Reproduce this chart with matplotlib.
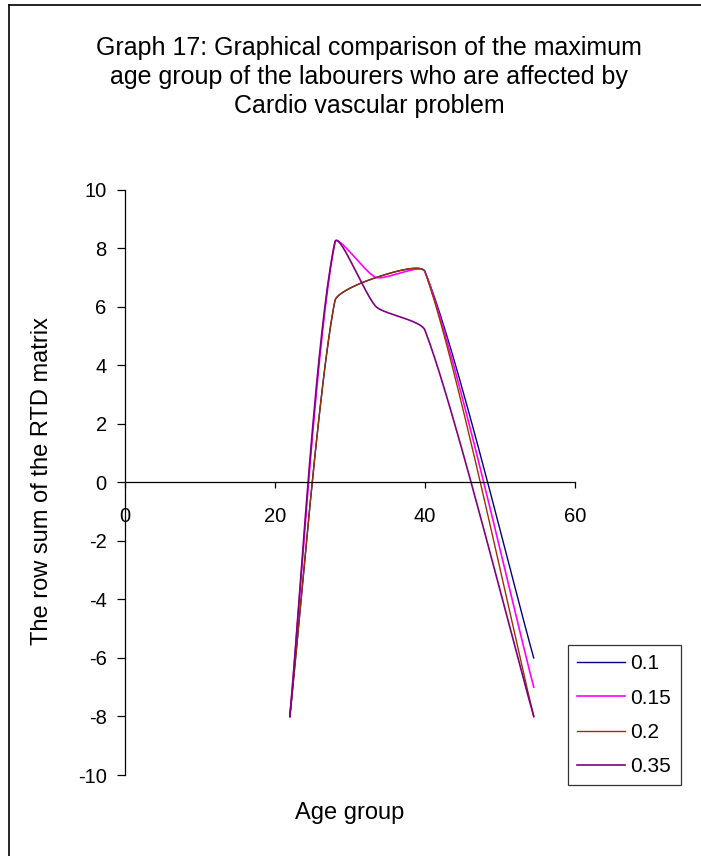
import numpy as np
import matplotlib
matplotlib.use("Agg")
import matplotlib.pyplot as plt
from matplotlib.lines import Line2D

plt.rcParams['font.family'] = ['Liberation Sans', 'DejaVu Sans']
plt.rcParams['axes.unicode_minus'] = False

# data
age = [22, 28, 33.5, 40, 54.5]
labels = ['0.1', '0.15', '0.2', '0.35']
s_01 = [-8, 6.2, 7.0, 7.2, -6]
s_015 = [-8, 8.2, 7.0, 7.2, -7]
s_02 = [-8, 6.2, 7.0, 7.2, -8]
s_035 = [-8, 8.2, 6.0, 5.2, -8]
series = [s_01, s_015, s_02, s_035]
colors = ['#000080', '#FF00FF', '#993300', '#800080']
widths = [1.0, 1.2, 1.0, 1.2]


def smooth(ax, xs, ys, k=0.2, n=40):
    # excel-like smoothed line, built in screen space
    P = ax.transData.transform(np.column_stack([xs, ys]))
    m = len(P)
    D = np.zeros_like(P)
    for i in range(m):
        if i == 0:
            d = P[1] - P[0]
        elif i == m - 1:
            d = P[-1] - P[-2]
        else:
            d = P[i + 1] - P[i - 1]
        D[i] = d / np.hypot(*d)
    t = np.linspace(0, 1, n)[:, None]
    out = []
    for i in range(m - 1):
        L = np.hypot(*(P[i + 1] - P[i]))
        c1 = P[i] + D[i] * L * k
        c2 = P[i + 1] - D[i + 1] * L * k
        seg = ((1 - t) ** 3) * P[i] + 3 * ((1 - t) ** 2) * t * c1 \
            + 3 * (1 - t) * t ** 2 * c2 + t ** 3 * P[i + 1]
        out.append(seg if i == 0 else seg[1:])
    out = np.vstack(out)
    return ax.transData.inverted().transform(out)


fig = plt.figure(figsize=(7.01, 8.56), dpi=100)
ax = fig.add_axes([0.1779, 0.0946, 0.6424, 0.6838])
ax.set_xlim(0, 60)
ax.set_ylim(-10, 10)

for ys, c, lw in zip(series, colors, widths):
    xy = smooth(ax, age, ys)
    ax.plot(xy[:, 0], xy[:, 1], color=c, lw=lw)

ax.spines['top'].set_visible(False)
ax.spines['right'].set_visible(False)
ax.spines['bottom'].set_position(('data', 0))
ax.spines['left'].set_linewidth(0.9)
ax.spines['bottom'].set_linewidth(0.9)
ax.set_xticks([0, 20, 40, 60])
ax.set_yticks(np.arange(-10, 11, 2))
ax.tick_params(axis='x', length=4, width=0.9, pad=14, labelsize=14.5)
ax.tick_params(axis='y', length=6, width=0.9, pad=7, labelsize=14.5)

fig.text(0.527, 0.958, 'Graph 17: Graphical comparison of the maximum\n'
         'age group of the labourers who are affected by\n'
         'Cardio vascular problem', ha='center', va='top',
         fontsize=18, linespacing=1.27)
fig.text(0.06, 0.438, 'The row sum of the RTD matrix', rotation=90,
         ha='center', va='center', fontsize=17)
fig.text(0.499, 0.05, 'Age group', ha='center', va='center', fontsize=17)

handles = [Line2D([], [], color=c, lw=lw) for c, lw in zip(colors, widths)]
leg = fig.legend(handles, labels, loc='upper left',
                 bbox_to_anchor=(568 / 701, 1 - 645 / 856),
                 fontsize=15, frameon=True, fancybox=False,
                 handlelength=2.3, handletextpad=0.25, labelspacing=0.73,
                 borderpad=0.45, borderaxespad=0)
leg.get_frame().set_edgecolor('black')
leg.get_frame().set_linewidth(0.9)

# chart area border (only top and left visible)
fig.add_artist(Line2D([9 / 701, 9 / 701], [0, 1 - 5 / 856], color='black', lw=1.2))
fig.add_artist(Line2D([9 / 701, 1], [1 - 5 / 856, 1 - 5 / 856], color='black', lw=1.2))

fig.savefig('out.png', dpi=100)
